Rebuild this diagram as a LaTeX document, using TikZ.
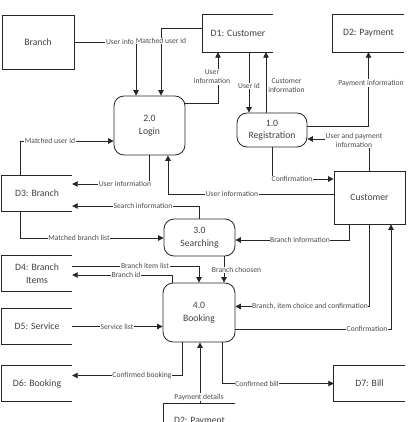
\documentclass[tikz,border=0pt]{standalone}
\usepackage{fontspec}
\setmainfont{Carlito}
\usetikzlibrary{arrows.meta}
\tikzset{
  ln/.style={draw=black!85, line width=0.8pt},
  flow/.style={ln, -{Triangle[length=5.5pt,width=5.5pt]}},
  ent/.style={ln, rectangle, minimum width=72pt, minimum height=54pt, font=\fontsize{9.7}{11}\selectfont, text=black!75},
  proc/.style={ln, rectangle, rounded corners=10pt, align=center, font=\fontsize{9.7}{12.5}\selectfont, text=black!75},
  store/.style={rectangle, minimum width=70pt, minimum height=35pt, align=center, font=\fontsize{9.7}{12.5}\selectfont, text=black!75},
  lbl/.style={fill=white, inner sep=0.6pt, align=center, font=\fontsize{7.6}{9}\selectfont, text=black!70},
}
\begin{document}
\begin{tikzpicture}[x=1pt, y=-1pt]
\useasboundingbox (0,0) rectangle (408,422);
% entities
\node[ent] (branch) at (38,42) {Branch};
\node[ent, minimum width=71pt, minimum height=53pt] (cust) at (369.5,197.5) {Customer};
% processes
\node[proc, minimum width=71pt, minimum height=59pt] (login) at (149.5,125.5) {2.0\\Login};
\node[proc, minimum width=70pt, minimum height=34pt] (reg) at (272,130) {1.0\\Registration};
\node[proc, minimum width=71pt, minimum height=37pt] (search) at (199.5,237.5) {3.0\\Searching};
\node[proc, minimum width=72pt, minimum height=59pt] (book) at (199,312.5) {4.0\\Booking};
% data stores
\node[store, minimum height=37pt] (d1) at (238,33.5) {D1: Customer};
\node[store, minimum width=71pt, minimum height=37pt] (d2) at (368.5,33.5) {D2: Payment};
\node[store] (d3) at (37,193.5) {D3: Branch};
\node[store] (d4) at (37,273.5) {D4: Branch\\Items};
\node[store] (d5) at (37,326.5) {D5: Service};
\node[store] (d6) at (37,383.5) {D6: Booking};
\node[store, minimum width=71pt] (d7) at (369.5,383.5) {D7: Bill};
\node[store, minimum width=71pt] (d2b) at (199.5,421.5) {D2: Payment};
\foreach \n in {d1,d2,d3,d4,d5,d6,d7,d2b}
  \draw[ln] (\n.north east) -- (\n.north west) -- (\n.south west) -- (\n.south east);
% flows
\draw[flow] (branch.east) -| ([xshift=-13.5pt]login.north);
\node[lbl] (l1) at (120,42) {User info};
\draw[flow] ([yshift=5pt]d1.west) -| ([xshift=11.5pt]login.north);
\node[lbl] (l2) at (161,41) {Matched user id};
\draw[flow] ([yshift=22.5pt]login.east) -| ([xshift=-20pt]d1.south);
\node[lbl] (l3) at (212,77) {User\\information};
\draw[flow] ([xshift=11pt]d1.south) -- ([xshift=-23pt]reg.north);
\node[lbl] (l4) at (249,86) {User id};
\draw[flow] ([xshift=-6pt]reg.north) -- ([xshift=28pt]d1.south);
\node[lbl, anchor=west] (l5) at (267.5,86) {Customer\\information};
\draw[flow] ([yshift=4pt]reg.east) -| (d2.south);
\node[lbl] (l6) at (371,83) {Payment information};
\draw[flow] (cust.north) |- ([yshift=-9pt]reg.east);
\node[lbl] (l7) at (354,140) {User and payment\\information};
\draw[flow] (reg.south) |- ([yshift=18.5pt]cust.west);
\node[lbl] (l8) at (292,179) {Confirmation};
\draw[flow] ([yshift=3.5pt]cust.west) -| ([xshift=18.5pt]login.south);
\node[lbl] (l9) at (232,194) {User information};
\draw[flow] (login.south) |- ([yshift=9.5pt]d3.east);
\node[lbl] (l10) at (125,184) {User information};
\draw[flow] ([xshift=-17pt]d3.north) |- ([yshift=-15.5pt]login.west);
\node[lbl] (l11) at (50,141) {Matched user id};
\draw[flow] (search.north) |- ([yshift=-12.5pt]d3.east);
\node[lbl] (l12) at (143,206) {Search information};
\draw[flow] ([xshift=-17pt]d3.south) |- ([yshift=-0.5pt]search.west);
\node[lbl] (l13) at (79,238) {Matched branch list};
\draw[flow] ([xshift=-20.5pt]cust.south) |- ([yshift=-2.5pt]search.east);
\node[lbl] (l14) at (300,240) {Branch information};
\draw[flow] ([yshift=7.5pt]d4.east) -| (book.north);
\node[lbl] (l15) at (145,266) {Branch item list};
\draw[flow] ([xshift=-27pt]book.north) |- ([yshift=-1.5pt]d4.east);
\node[lbl] (l16) at (126,275) {Branch id};
\draw[flow] ([xshift=24.5pt]search.south) -- ([xshift=25pt]book.north);
\node[lbl] (l17) at (236.5,270) {Branch choosen};
\draw[flow] (cust.south) |- ([yshift=6pt]book.east);
\node[lbl] (l18) at (310,306) {Branch, item choice and confirmation};
\draw[flow] ([yshift=-16.5pt]book.east) -| ([xshift=21.5pt]cust.south);
\node[lbl] (l19) at (367,329) {Confirmation};
\draw[flow] (d5.east) -- (d5.east -| book.west);
\node[lbl] (l20) at (117,326.5) {Service list};
\draw[flow] ([xshift=-17pt]book.south) |- ([yshift=8pt]d6.east);
\node[lbl] (l21) at (142,375.5) {Confirmed booking};
\draw[flow] ([xshift=0.5pt]d2b.north) -- ([xshift=1pt]book.south);
\node[lbl] (l22) at (199,397) {Payment details};
\draw[flow] ([xshift=23pt]book.south) |- (d7.west);
\node[lbl] (l23) at (257,383.5) {Confirmed bill};
\end{tikzpicture}
\end{document}
